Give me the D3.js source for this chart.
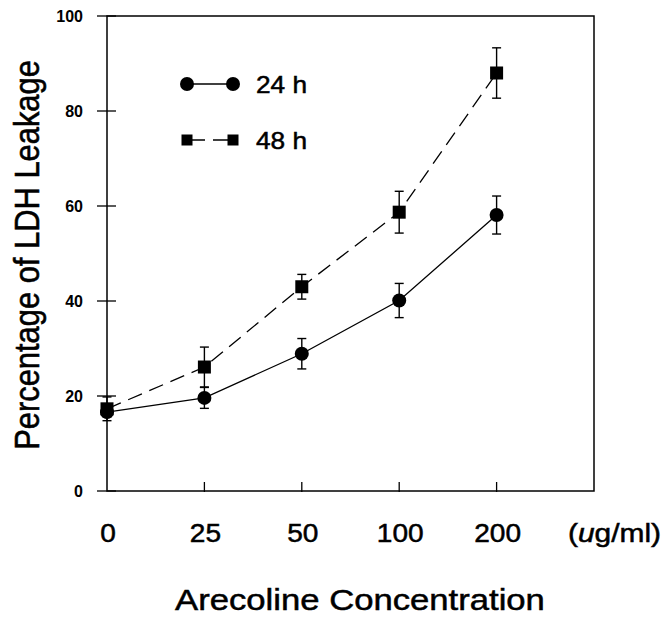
<!DOCTYPE html>
<html>
<head>
<meta charset="utf-8">
<script src="https://cdn.jsdelivr.net/npm/d3@7"></script>
<style>
body { margin: 0; background: #fff; }
svg { font-family: Arial, "Liberation Sans", sans-serif; }
</style>
</head>
<body>
<div id="chart"></div>
<script>
// concentrations (ug/ml), shown as evenly spaced categories
var concentrations = ["0", "25", "50", "100", "200"];
var yTicks = [0, 20, 40, 60, 80, 100];

// percentage of LDH leakage
var values24 = [16.6, 19.6, 28.9, 40.1, 58.1];
var err24 = [1.0, 2.2, 3.2, 3.6, 4.0];
var values48 = [17.3, 26.1, 43.0, 58.7, 88.0];
var err48 = [2.5, 4.2, 2.6, 4.4, 5.3];

var width = 666, height = 620;
var margin = { top: 16, left: 107, right: 72, bottom: 129 };

var svg = d3.select("#chart").append("svg")
    .attr("width", width)
    .attr("height", height);

// six slots: five concentrations plus empty space on the right
var x = d3.scaleLinear()
    .domain([0, 5])
    .range([margin.left, width - margin.right]);

var y = d3.scaleLinear()
    .domain([0, 100])
    .range([height - margin.bottom, margin.top]);

var x0 = x(0), x1 = x(5), y0 = y(0), y1 = y(100);

// the scanned figure is a bit wider than tall, so text is stretched sideways
function heavy(sel) {
    return sel.attr("stroke", "#000").attr("stroke-width", 0.5);
}

// frame
svg.append("rect")
    .attr("x", x0).attr("y", y1)
    .attr("width", x1 - x0).attr("height", y0 - y1)
    .attr("fill", "none").attr("stroke", "#000").attr("stroke-width", 1.5);

// y ticks cross the left axis
svg.selectAll(".ytick")
    .data(yTicks)
    .enter().append("line")
    .attr("x1", x0 - 10).attr("x2", x0 + 9)
    .attr("y1", function (d) { return y(d); })
    .attr("y2", function (d) { return y(d); })
    .attr("stroke", "#000").attr("stroke-width", 1.3);

svg.selectAll(".ylabel")
    .data(yTicks)
    .enter().append("text")
    .attr("x", 83)
    .attr("y", function (d) { return y(d); })
    .attr("dy", "0.36em")
    .attr("text-anchor", "end")
    .attr("font-size", 16)
    .attr("font-weight", "bold")
    .text(function (d) { return d; });

// x ticks
svg.selectAll(".xtick")
    .data(concentrations.slice(1))
    .enter().append("line")
    .attr("x1", function (d, i) { return x(i + 1); })
    .attr("x2", function (d, i) { return x(i + 1); })
    .attr("y1", y0 - 9).attr("y2", y0 + 1)
    .attr("stroke", "#000").attr("stroke-width", 1.3);

svg.selectAll(".xlabel")
    .data(concentrations)
    .enter().append("text")
    .attr("transform", function (d, i) { return "translate(" + (x(i) + 1) + ",542) scale(1.08,1)"; })
    .attr("text-anchor", "middle")
    .attr("font-size", 26)
    .call(heavy)
    .text(function (d) { return d; });

var unit = svg.append("text")
    .attr("transform", "translate(661,542) scale(1.15,1)")
    .attr("text-anchor", "end")
    .attr("font-size", 26)
    .call(heavy);
unit.append("tspan").text("(");
unit.append("tspan").attr("font-style", "italic").text("u");
unit.append("tspan").text("g/ml)");

// axis titles
svg.append("text")
    .attr("transform", "translate(360,610) scale(1.175,1)")
    .attr("text-anchor", "middle")
    .attr("font-size", 29.5)
    .call(heavy)
    .text("Arecoline Concentration");

svg.append("text")
    .attr("transform", "translate(39,255) scale(1.13,1) rotate(-90)")
    .attr("text-anchor", "middle")
    .attr("font-size", 30.9)
    .call(heavy)
    .text("Percentage of LDH Leakage");

var line = d3.line()
    .x(function (d, i) { return x(i); })
    .y(function (d) { return y(d); });

function drawSeries(values, errs, dashed, shape) {
    var g = svg.append("g");
    g.append("path")
        .datum(values)
        .attr("d", line)
        .attr("fill", "none")
        .attr("stroke", "#000")
        .attr("stroke-width", 1.3)
        .attr("stroke-dasharray", dashed ? "15,8" : null);

    var bars = g.selectAll(".err")
        .data(values)
        .enter().append("g");
    bars.append("line")
        .attr("x1", function (d, i) { return x(i); })
        .attr("x2", function (d, i) { return x(i); })
        .attr("y1", function (d, i) { return y(d + errs[i]); })
        .attr("y2", function (d, i) { return y(d - errs[i]); })
        .attr("stroke", "#000").attr("stroke-width", 1.4);
    [1, -1].forEach(function (s) {
        bars.append("line")
            .attr("x1", function (d, i) { return x(i) - 4.5; })
            .attr("x2", function (d, i) { return x(i) + 4.5; })
            .attr("y1", function (d, i) { return y(d + s * errs[i]); })
            .attr("y2", function (d, i) { return y(d + s * errs[i]); })
            .attr("stroke", "#000").attr("stroke-width", 1.4);
    });

    if (shape == "circle") {
        g.selectAll(".pt").data(values).enter().append("circle")
            .attr("cx", function (d, i) { return x(i); })
            .attr("cy", function (d) { return y(d); })
            .attr("r", 7)
            .attr("fill", "#000");
    } else {
        g.selectAll(".pt").data(values).enter().append("rect")
            .attr("x", function (d, i) { return x(i) - 6.5; })
            .attr("y", function (d) { return y(d) - 6.5; })
            .attr("width", 13).attr("height", 13)
            .attr("fill", "#000");
    }
}

drawSeries(values48, err48, true, "square");
drawSeries(values24, err24, false, "circle");

// legend
var legend = [
    { label: "24 h", shape: "circle", dashed: false, y: 84 },
    { label: "48 h", shape: "square", dashed: true, y: 140 }
];
legend.forEach(function (d) {
    svg.append("line")
        .attr("x1", 187).attr("x2", 233)
        .attr("y1", d.y).attr("y2", d.y)
        .attr("stroke", "#000").attr("stroke-width", 1.3)
        .attr("stroke-dasharray", d.dashed ? "18,8" : null);
    [187, 233].forEach(function (cx) {
        if (d.shape == "circle") {
            svg.append("circle").attr("cx", cx).attr("cy", d.y).attr("r", 7).attr("fill", "#000");
        } else {
            svg.append("rect").attr("x", cx - 5.5).attr("y", d.y - 5.5)
                .attr("width", 11).attr("height", 11).attr("fill", "#000");
        }
    });
    svg.append("text")
        .attr("transform", "translate(256," + (d.y + 8.5) + ") scale(1.14,1)")
        .attr("font-size", 23)
        .call(heavy)
        .text(d.label);
});
</script>
</body>
</html>
